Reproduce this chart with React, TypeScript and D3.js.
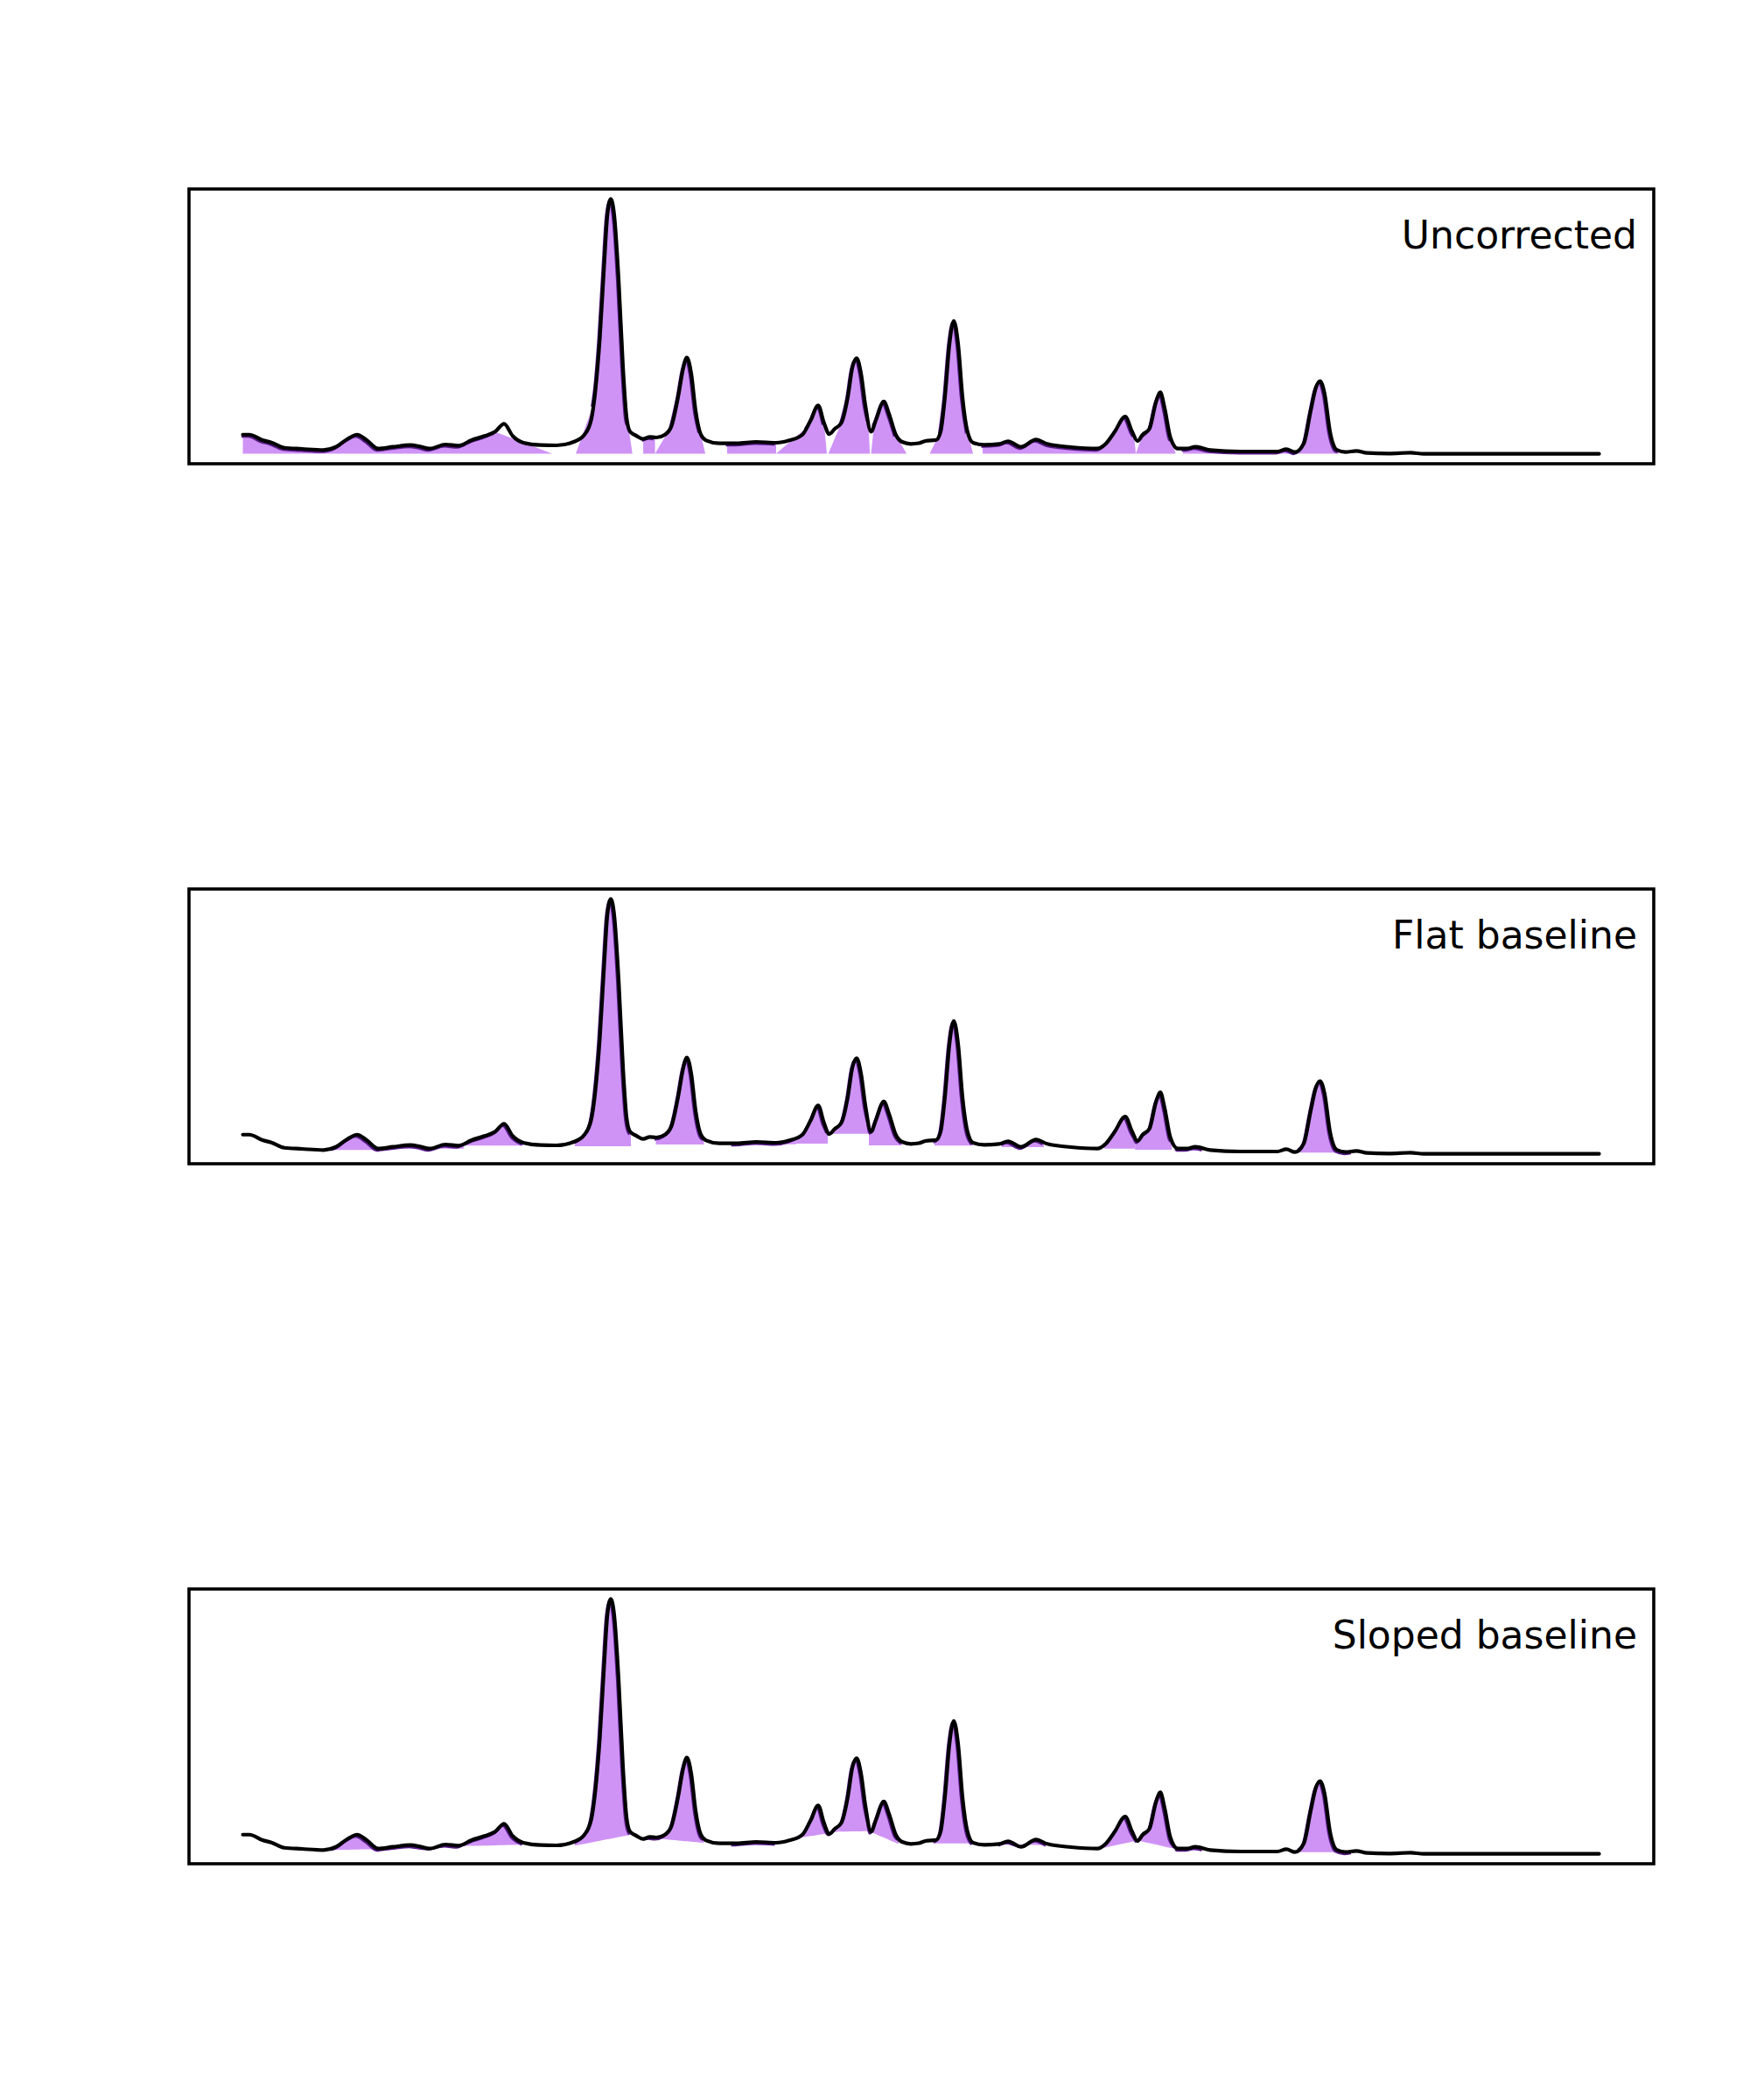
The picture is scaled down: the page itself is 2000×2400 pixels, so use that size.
import React from "react";
import * as d3 from "d3";

// Retention time (arbitrary units) and detector signal (% of max peak)
const TIME = [
  0, 0.48, 1.45, 2.1, 3.06, 4.35, 5.94, 6.87, 7.71, 8.42, 9.13, 9.97, 11.06, 12.35, 13.0, 13.77,
  14.94, 15.9, 16.87, 17.81, 18.61, 19.26, 19.9, 20.68, 21.97, 23.11, 24.39, 25.19, 25.68, 25.99,
  26.32, 26.64, 26.87, 27.13, 27.39, 27.71, 28.03, 28.29, 28.55, 29.05, 29.52, 30.01, 30.48, 31.13,
  31.61, 32.1, 32.48, 32.74, 33.06, 33.39, 33.77, 34.16, 35.13, 36.42, 37.87, 39.32, 40.29, 41.26,
  41.88, 42.42, 42.85, 43.23, 43.65, 44.13, 44.61, 44.94, 45.26, 45.58, 45.9, 46.32, 46.68, 47.26,
  47.65, 48.14, 48.61, 49.26, 49.84, 50.32, 51.13, 51.45, 51.77, 52.1, 52.42, 52.74, 53.06, 53.43,
  53.84, 54.65, 55.77, 56.42, 57.39, 58.48, 59.31, 61.06, 63.0, 63.65, 64.29, 65.06, 65.57, 65.97,
  66.35, 66.85, 67.32, 67.65, 67.97, 68.39, 68.94, 69.58, 70.23, 71.32, 73.58, 76.29, 76.94, 77.58,
  78.23, 78.73, 79.11, 79.43, 79.76, 80.16, 80.65, 81.3, 82.1, 82.9, 84.48, 86.1, 87.06, 100,
];
const SIGNAL = [
  7.64, 7.64, 5.48, 4.56, 2.5, 2.06, 1.61, 2.85, 5.93, 7.64, 5.48, 2.16, 2.85, 3.53, 3.09, 2.16,
  3.77, 3.33, 5.48, 7.1, 8.81, 11.9, 7.1, 4.46, 3.53, 3.43, 4.8, 7.64, 13.37, 24.8,
  45.4, 74.0, 93.3, 100, 93.3, 68.2, 34.0, 14.5, 8.81, 7.1, 5.93, 6.75, 6.51, 7.64,
  11.07, 22.6, 33.9, 37.9, 31.6, 16.8, 7.64, 5.38, 4.22, 4.22, 4.8, 4.46, 5.38, 7.64,
  13.37, 19.1, 12.24, 7.88, 9.94, 12.24, 22.5, 33.9, 37.6, 31.6, 19.1, 8.81, 13.37, 20.6,
  15.7, 7.64, 4.8, 4.01, 4.28, 5.14, 5.59, 8.81, 22.5, 43.1, 52.2, 43.1, 22.5, 8.81,
  4.46, 3.67, 4.01, 5.04, 2.85, 5.72, 4.01, 2.74, 2.16, 4.22, 8.81, 14.7, 8.81, 5.14,
  7.64, 9.94, 20.2, 24.2, 17.9, 6.51, 2.16, 2.16, 2.85, 1.61, 1.03, 1.03, 1.95, 0.79,
  4.22, 16.8, 25.9, 28.6, 23.7, 8.81, 1.71, 0.79, 1.27, 0.45, 0.24, 0.58, 0.1, 0.1,
];

// Uncorrected peak windows: [start at base, meets signal, leaves signal, end at base]
const RAW_BASE = 0.2;
const RAW_SEGS = [
  [0, 0, 18.6, 22.81],
  [24.55, 25.84, 28.4, 28.72],
  [29.52, 29.52, 30.39, 30.39],
  [30.39, 31.61, 33.71, 34.1],
  [35.71, 35.71, 39.32, 39.32],
  [39.32, 41.56, 42.85, 43.06],
  [43.17, 44.13, 46.12, 46.23],
  [46.32, 46.55, 48.14, 48.94],
  [50.64, 51.45, 53.43, 53.84],
  [54.55, 54.55, 65.71, 65.84],
  [65.84, 66.35, 68.46, 68.77],
  [69.32, 69.32, 80.81, 80.81],
];

// Flat baseline windows: [start, end, baseline level]
const FLAT_SEGS = [
  [6.55, 10.23, 1.61],
  [10.23, 16.29, 2.16],
  [16.23, 20.68, 3.33],
  [24.48, 28.61, 3.09],
  [30.45, 34.0, 3.77],
  [36.1, 40.8, 3.87],
  [40.81, 43.13, 4.11],
  [43.39, 46.16, 7.99],
  [46.16, 48.61, 3.43],
  [51.0, 53.84, 3.33],
  [55.97, 59.06, 2.74],
  [63.52, 65.78, 2.16],
  [65.78, 68.5, 1.71],
  [68.87, 70.8, 1.37],
  [77.9, 81.8, 0.58],
];

// Sloped baseline windows: [start, end, baseline at start, baseline at end]
const SLOPED_SEGS = [
  [6.55, 10.23, 1.61, 1.95],
  [10.23, 16.29, 1.95, 3.2],
  [16.29, 20.68, 3.2, 3.67],
  [24.48, 28.61, 3.33, 7.64],
  [29.6, 34.0, 6.51, 4.46],
  [36.1, 39.32, 4.22, 4.46],
  [40.81, 43.93, 6.27, 8.81],
  [43.93, 46.16, 8.81, 9.0],
  [46.16, 48.35, 9.0, 4.0],
  [51.0, 53.84, 4.22, 4.22],
  [55.8, 59.3, 3.9, 3.5],
  [63.52, 65.97, 2.5, 5.38],
  [65.97, 68.8, 5.38, 1.95],
  [68.87, 70.8, 1.6, 1.4],
  [77.9, 81.8, 0.79, 0.79],
];

const TITLES = ["Uncorrected", "Flat baseline", "Sloped baseline"];

const W = 2000;
const H = 2400;
const LEFT = 216;
const RIGHT = 1890;
const PANEL_TOPS = [216, 1016, 1816];
const PANEL_H = 314;

const FILL = "#cf93f5";
const EDGE = "#581a88";

type P = { x: number; y: number };

const data: P[] = TIME.map((t, i) => ({ x: t, y: SIGNAL[i] }));

function sig(t: number): number {
  for (let i = 0; i < data.length - 1; i++) {
    const a = data[i];
    const b = data[i + 1];
    if (t >= a.x && t <= b.x) {
      const f = b.x === a.x ? 0 : (t - a.x) / (b.x - a.x);
      return a.y + f * (b.y - a.y);
    }
  }
  return data[data.length - 1].y;
}

function inner(a: number, b: number): P[] {
  const pts: P[] = [{ x: a, y: sig(a) }];
  data.forEach((d) => {
    if (d.x > a + 1e-6 && d.x < b - 1e-6) pts.push(d);
  });
  if (b > a) pts.push({ x: b, y: sig(b) });
  return pts;
}

const x = d3.scaleLinear().domain([-3.97, 104.03]).range([LEFT, RIGHT]);

function Panel({ idx }: { idx: number }) {
  const top = PANEL_TOPS[idx];
  const y = d3.scaleLinear().domain([-3.77, 103.9]).range([top + PANEL_H, top]);
  const line = d3
    .line<P>()
    .x((d) => x(d.x))
    .y((d) => y(d.y))
    .curve(d3.curveMonotoneX);

  const fills: React.ReactNode[] = [];
  const edges: React.ReactNode[] = [];

  if (idx === 0) {
    RAW_SEGS.forEach(([xs, xa, xb, xe], k) => {
      const pts = inner(xa, xb);
      const topPath = line(pts) || "";
      const d = `M${x(xs)},${y(RAW_BASE)}L${topPath.slice(1)}L${x(xe)},${y(RAW_BASE)}Z`;
      fills.push(<path key={"f" + k} d={d} fill={FILL} stroke="none" />);
      edges.push(<path key={"e" + k} d={topPath} fill="none" stroke={EDGE} strokeWidth={3} />);
    });
  } else {
    const segs =
      idx === 1
        ? FLAT_SEGS.map(([a, b, l]) => [a, b, l, l])
        : SLOPED_SEGS.map((s) => s.slice());
    segs.forEach(([xs, xe, b0, b1], k) => {
      const base = (t: number) => b0 + ((t - xs) / (xe - xs)) * (b1 - b0);
      const pts = inner(xs, xe).map((p) => ({ x: p.x, y: Math.max(p.y, base(p.x)) }));
      const area = d3
        .area<P>()
        .x((d) => x(d.x))
        .y0((d) => y(base(d.x)))
        .y1((d) => y(d.y))
        .curve(d3.curveMonotoneX);
      fills.push(<path key={"f" + k} d={area(pts) || ""} fill={FILL} stroke="none" />);
      edges.push(
        <path key={"e" + k} d={line(pts) || ""} fill="none" stroke={EDGE} strokeWidth={3} />
      );
    });
  }

  return (
    <g>
      <g>{fills}</g>
      <g transform="translate(-1.5,2)">{edges}</g>
      <path
        d={line(data) || ""}
        fill="none"
        stroke="#000"
        strokeWidth={4.2}
        strokeLinejoin="round"
        strokeLinecap="round"
      />
      <rect
        x={LEFT}
        y={top}
        width={RIGHT - LEFT}
        height={PANEL_H}
        fill="none"
        stroke="#000"
        strokeWidth={3.6}
      />
      <text
        x={1871}
        y={top + 68}
        textAnchor="end"
        fontFamily="DejaVu Sans"
        fontSize={44}
        fill="#000"
      >
        {TITLES[idx]}
      </text>
    </g>
  );
}

export default function App() {
  return (
    <svg
      width={W}
      height={H}
      viewBox={`0 0 ${W} ${H}`}
      style={{ position: "absolute", left: 0, top: 0, background: "#fff" }}
    >
      <rect width={W} height={H} fill="#fff" />
      {TITLES.map((_, i) => (
        <Panel key={i} idx={i} />
      ))}
    </svg>
  );
}
